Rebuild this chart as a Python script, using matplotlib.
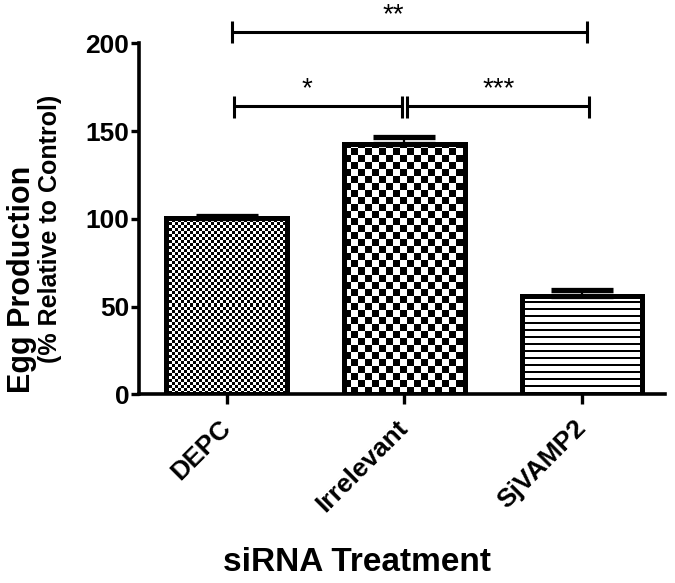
import numpy as np
import matplotlib
matplotlib.use("Agg")
import matplotlib.pyplot as plt

categories = ["DEPC", "Irrelevant", "SjVAMP2"]
values = [100.3, 142.6, 56.2]
errors = [1.3, 4.0, 3.2]
yticks = [0, 50, 100, 150, 200]

# significance brackets: (x_start, x_end, y_line, label, label_x)
brackets = [
    (0.03, 2.03, 206.5, "**", 0.94),
    (0.04, 0.985, 164.0, "*", 0.45),
    (1.015, 2.04, 164.0, "***", 1.53),
]

plt.rcParams['font.family'] = ['Liberation Sans', 'DejaVu Sans']

W, H, DPI = 675, 583, 100
fig = plt.figure(figsize=(W / DPI, H / DPI), dpi=DPI)
ax = fig.add_axes([0.206, 0.3237, 0.985 - 0.206, 0.9257 - 0.3237])

xpos = np.arange(len(categories))
width = 0.68
xmin, xmax = -0.493, 2.467
ax.set_xlim(xmin, xmax)
ax.set_ylim(0, 200)

bars = ax.bar(xpos, values, width=width, facecolor='none', edgecolor='black',
              linewidth=3.6, zorder=3)
for b in bars:
    b.set_joinstyle('miter')


def pattern_fill(patch, kind):
    x0 = patch.get_x()
    x1 = x0 + patch.get_width()
    y0 = patch.get_y()
    y1 = y0 + patch.get_height()
    (px0, py0) = ax.transData.transform((x0, y0))
    (px1, py1) = ax.transData.transform((x1, y1))
    w = int(round(px1 - px0))
    h = int(round(py1 - py0))
    jj, ii = np.meshgrid(np.arange(w), np.arange(h))
    if kind == 'fine':
        c = 3
        arr = ((jj // c + ii // c) % 2).astype(float)
    elif kind == 'coarse':
        c = 7
        arr = ((jj // c + ii // c) % 2).astype(float)
    else:
        arr = ((ii % 7) < 2).astype(float)
    im = ax.imshow(arr, extent=[x0, x1, y0, y1], origin='lower', cmap='gray_r',
                   vmin=0, vmax=1, interpolation='nearest', aspect='auto', zorder=2)
    im.set_clip_path(patch)


for b, kind in zip(bars, ['fine', 'coarse', 'lines']):
    pattern_fill(b, kind)

ax.set_xlim(xmin, xmax)
ax.set_ylim(0, 200)

ax.errorbar(xpos, values, yerr=[np.zeros(len(values)), errors], fmt='none',
            ecolor='black', elinewidth=1.6, capsize=22, capthick=3.8, zorder=4)

for (xs, xe, yl, lab, lx) in brackets:
    ax.plot([xs, xe], [yl, yl], color='black', lw=2.2, clip_on=False,
            solid_capstyle='butt')
    for xv in (xs, xe):
        ax.plot([xv, xv], [yl - 6.3, yl + 6], color='black', lw=2.2, clip_on=False,
                solid_capstyle='butt')
    ax.text(lx, yl + 5.8, lab, ha='center', va='baseline',
            fontsize=20, clip_on=False)

for s in ['top', 'right']:
    ax.spines[s].set_visible(False)
for s in ['left', 'bottom']:
    ax.spines[s].set_linewidth(2.6)

ax.set_yticks(yticks)
ax.set_yticklabels([str(v) for v in yticks], fontsize=19, fontweight='bold')
ax.set_xticks(xpos)
ax.set_xticklabels(categories, fontsize=19, fontweight='bold', rotation=45,
                   ha='right', va='center', rotation_mode='anchor')
ax.tick_params(axis='y', length=6, width=2.4, pad=1)
ax.tick_params(axis='x', length=7.5, width=2.4, pad=14)

fig.text(0.033, 0.52, "Egg Production", rotation=90, ha='center', va='center',
         fontsize=22, fontweight='bold')
fig.text(0.074, 0.607, "(% Relative to Control)", rotation=90, ha='center',
         va='center', fontsize=18, fontweight='bold')
fig.text(0.529, 0.035, "siRNA Treatment", ha='center', va='center',
         fontsize=24, fontweight='bold')

fig.savefig("out.png", dpi=DPI)
